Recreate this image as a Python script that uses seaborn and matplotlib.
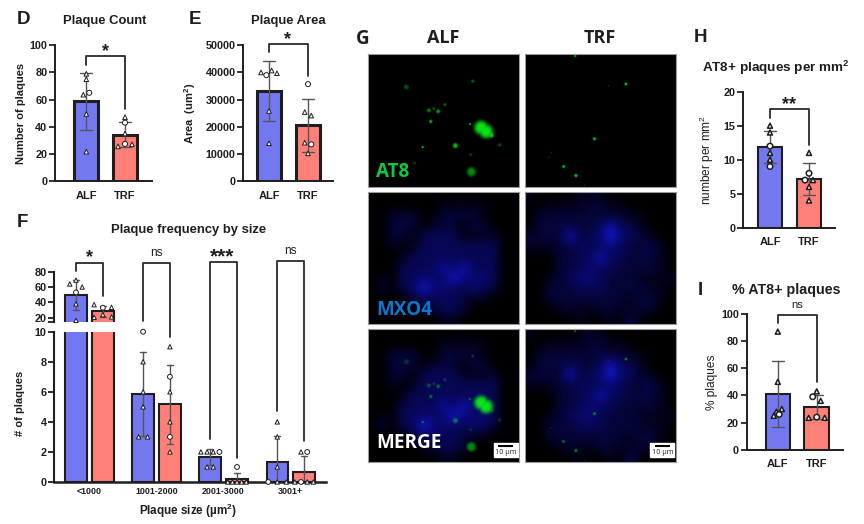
import numpy as np
import pandas as pd
import matplotlib
matplotlib.use("Agg")
import matplotlib.pyplot as plt
import seaborn as sns
from matplotlib.colors import LinearSegmentedColormap
from matplotlib.transforms import Affine2D, blended_transform_factory

W, H = 864, 524

# panel values, listed left to right where points sit side by side
diets = ["ALF", "TRF"]
d_alf = [79, 75, 63.6, 65, 49.4, 21.6]
d_alf_shape = "tttctt"
d_trf = [47, 43, 35, 25.5, 27.3, 27]
d_trf_shape = "tcttct"
e_alf = [40000, 39000, 40700, 39700, 25800, 13900]
e_alf_shape = "tctttt"
e_trf = [35700, 25400, 24100, 14100, 13500, 10200]
e_trf_shape = "ctttct"
h_alf = [15, 14, 12, 11, 10, 9]
h_alf_shape = "ttcttc"
h_trf = [11, 8, 7, 7, 6, 4]
h_trf_shape = "tcctt" + "t"
i_alf = [87, 50, 25, 28, 26, 30]
i_alf_shape = "ttttct"
i_trf = [43, 39, 36, 23.5, 24, 23.5]
i_trf_shape = "tcttct"

size_bins = ["<1000", "1001-2000", "2001-3000", "3001+"]
f_alf = [[64, 69, 60, 53, 38, 16.5], [10, 8, 6, 5, 3, 3], [2, 2, 2, 2, 1, 1], [4, 3, 1, 0, 0, 0]]
f_alf_shape = ["tttctt", "cttttt", "tttctt", "tttctt"]
f_trf = [[37, 33, 33.5, 20.5, 24, 21], [9, 7, 6, 4, 3, 2], [1, 0, 0, 0, 0, 0], [2, 2, 0, 0, 0, 0]]
f_trf_shape = ["tctttt", "tcttct", "cttttt", "tctctt"]

blue_alf = np.array([
    [0, 0, 0, 0, 0, 0, 0, 0, 0, 0, 0, 0, 0, 0, 0],
    [0, 0, 0, 0, 0, 0, 0, 1, 1, 1, 1, 1, 0, 0, 0],
    [0, 0, 2, 2, 2, 0, 0, 2, 2, 2, 2, 0, 0, 0, 0],
    [0, 0, 2, 2, 2, 0, 2, 2, 2, 0, 2, 2, 0, 0, 0],
    [0, 0, 2, 2, 0, 3, 3, 3, 3, 1, 1, 1, 2, 0, 0],
    [0, 0, 1, 0, 1, 3, 3, 3, 3, 3, 3, 3, 3, 0, 0],
    [0, 0, 0, 1, 3, 3, 3, 3, 3, 3, 3, 3, 3, 0, 0],
    [0, 0, 0, 3, 3, 3, 3, 6, 3, 7, 3, 3, 3, 0, 0],
    [0, 1, 0, 3, 3, 4, 4, 3, 8, 4, 4, 4, 3, 0, 0],
    [0, 2, 0, 3, 3, 8, 4, 4, 3, 3, 4, 3, 2, 0, 0],
    [0, 0, 0, 0, 2, 3, 3, 3, 3, 2, 1, 1, 0, 0, 0],
    [0, 0, 0, 0, 0, 1, 2, 3, 3, 2, 0, 0, 0, 0, 0],
    [0, 0, 0, 0, 0, 0, 0, 1, 1, 0, 0, 0, 0, 0, 0],
])
blue_trf = np.array([
    [1, 0, 0, 0, 0, 1, 1, 1, 0, 0, 0, 0, 0, 0, 0],
    [0, 0, 1, 1, 1, 1, 2, 2, 1, 1, 0, 0, 0, 0, 0],
    [0, 2, 2, 2, 2, 2, 2, 2, 2, 2, 1, 1, 0, 0, 0],
    [0, 2, 2, 2, 3, 2, 2, 3, 7, 3, 3, 1, 0, 0, 0],
    [2, 2, 2, 2, 7, 2, 3, 4, 8, 4, 3, 2, 1, 0, 0],
    [1, 1, 1, 2, 2, 3, 3, 3, 4, 3, 2, 2, 3, 1, 0],
    [0, 0, 0, 2, 2, 3, 3, 7, 3, 3, 2, 2, 2, 1, 0],
    [0, 0, 0, 2, 2, 3, 4, 3, 3, 2, 2, 2, 2, 1, 0],
    [0, 0, 1, 2, 3, 4, 4, 3, 2, 2, 2, 1, 1, 1, 1],
    [0, 0, 2, 2, 2, 3, 3, 3, 2, 2, 2, 2, 1, 1, 0],
    [0, 0, 2, 2, 2, 2, 2, 2, 2, 2, 1, 2, 2, 1, 0],
    [0, 0, 0, 1, 2, 1, 1, 2, 2, 1, 1, 2, 2, 0, 0],
    [0, 0, 0, 0, 0, 1, 0, 0, 1, 0, 3, 0, 0, 0, 0],
])

# green spots: x %, y %, radius in px, brightness
spots_alf = [
    (25.3, 24.5, 2.5, .35), (69.2, 20.2, 1.6, .45), (50.7, 37.9, 1.6, .45), (40.1, 42.2, 2, .6),
    (43.4, 40.9, 1.3, .5), (46.3, 42.9, 2, .7), (41.4, 50.5, 1.7, .8), (67.4, 52.5, 1.1, .9),
    (36.1, 69.7, 1.1, 1), (57.7, 68.7, 2.6, .8), (87, 68.2, 1.8, .35), (67.8, 75.5, 1.5, .3),
    (30.8, 81.8, 1.3, .35), (68.3, 88.4, 4.6, .6), (74.8, 55.2, 7, 1), (78, 58, 7, 1),
    (81.3, 60.6, 3, .9),
]
spots_trf = [
    (33.1, 1.3, 1.1, .9), (66.7, 22.4, 1.4, 1), (55.2, 23.9, .8, .3), (45.9, 63.5, 1.6, .9),
    (25.4, 84.4, 1.5, .9), (33.6, 91.2, 1.7, .9), (17.2, 74.1, .8, .35), (15.5, 77.3, .8, .3),
    (39.3, 98.7, .8, .3),
]

col_alf = "#7478F0"
col_trf = "#FF8078"
ink = "#1e1e1e"

sns.set_theme(style="ticks", rc={
    "axes.edgecolor": ink, "xtick.color": ink, "ytick.color": ink, "text.color": ink,
    "axes.labelcolor": ink, "mathtext.fontset": "custom", "mathtext.rm": "Liberation Sans",
    "mathtext.bf": "Liberation Sans:bold", "mathtext.default": "regular",
})
plt.rcParams["font.family"] = ["Liberation Sans", "DejaVu Sans"]

fig = plt.figure(figsize=(W / 100, H / 100), dpi=100)
to_px = Affine2D().scale(1 / W, -1 / H).translate(0, 1) + fig.transFigure


def add_axes(left, right, top, bottom):
    return fig.add_axes([left / W, 1 - bottom / H, (right - left) / W, (bottom - top) / H])


def label(x, y, s, size=8, weight="bold", **kw):
    fig.text(x, y, s, transform=to_px, fontsize=size, fontweight=weight, ha="center", va="center", **kw)


def bracket(ax, x0, x1, top, end0, end1, lw=1.3):
    # x in data units, y in figure pixels
    tr = blended_transform_factory(ax.transData, to_px)
    ax.plot([x0, x0, x1, x1], [end0, top, top, end1], transform=tr, color="#2a2a2a", lw=lw, clip_on=False, zorder=6)


def swarm(values, px_per_unit, step, gap=3.0):
    # points closer than gap pixels sit side by side, like a prism scatter
    vals = np.asarray(values, dtype=float)
    order = np.argsort(vals, kind="stable")
    offsets = np.zeros(len(vals))
    groups = [[order[0]]]
    for k in order[1:]:
        if (vals[k] - vals[groups[-1][-1]]) * px_per_unit < gap:
            groups[-1].append(k)
        else:
            groups.append([k])
    for g in groups:
        for i, k in enumerate(sorted(g)):
            offsets[k] = (i - (len(g) - 1) / 2) * step
    return offsets


def points(ax, x, values, shapes, offsets, s=11, lw=.7):
    df = pd.DataFrame({"x": x + offsets, "y": values, "shape": list(shapes)})
    sns.scatterplot(data=df, x="x", y="y", style="shape", markers={"t": "^", "c": "o"}, size="shape",
                    sizes={"t": s, "c": s * 1.2}, color="white", edgecolor=ink, linewidth=lw, legend=False,
                    clip_on=False, zorder=5, ax=ax)
    ax.set_xlabel("")
    ax.set_ylabel("")


def two_bars(box, centers, alf, alf_s, trf, trf_s, ymax, yticks, ylabel, label_x, lw, steps, gaps=(3, 3),
             ylabel_weight="bold", ylabel_size=8, mlw=.7, ms=11, spine=1.4):
    left, right, top, bottom = box
    ax = add_axes(left, right, top, bottom)
    spacing = centers[1] - centers[0]
    df = pd.DataFrame({"diet": ["ALF"] * len(alf) + ["TRF"] * len(trf), "value": alf + trf})
    sns.barplot(data=df, x="diet", y="value", hue="diet", palette=[col_alf, col_trf], order=diets, width=.63,
                saturation=1, edgecolor=ink, linewidth=lw, errorbar="sd", capsize=.31,
                err_kws={"color": "#555555", "linewidth": 1.0}, legend=False, ax=ax)
    unit = (bottom - top) / ymax
    points(ax, 0, alf, alf_s, swarm(alf, unit, steps[0] / spacing, gaps[0]), lw=mlw, s=ms)
    points(ax, 1, trf, trf_s, swarm(trf, unit, steps[1] / spacing, gaps[1]), lw=mlw, s=ms)
    ax.set_xlim((left - centers[0]) / spacing, (right - centers[0]) / spacing)
    ax.set_ylim(0, ymax)
    ax.set_yticks(yticks)
    ax.set_xlabel("")
    ax.set_ylabel(ylabel, fontsize=ylabel_size, fontweight=ylabel_weight)
    ax.yaxis.set_label_coords((label_x - left) / (right - left), .5)
    ax.tick_params(axis="x", length=0, pad=7, labelsize=8)
    ax.tick_params(axis="y", length=4, width=spine * .9, pad=1.5, labelsize=7.8)
    for t in ax.get_xticklabels() + ax.get_yticklabels():
        t.set_fontweight("bold")
    sns.despine(ax=ax)
    ax.spines["left"].set_linewidth(spine)
    ax.spines["bottom"].set_linewidth(spine)
    return ax


# D, E
ax_d = two_bars((55, 152, 45.3, 181), (86.3, 125), d_alf, d_alf_shape, d_trf, d_trf_shape, 100,
                [0, 20, 40, 60, 80, 100], "Number of plaques", 25.7, 2.2, (6, 7))
bracket(ax_d, 0, 1, 56, 65, 109)
label(105, 52, "*", size=13)
label(105, 20.7, "Plaque Count", size=9.4)
label(24, 20, "D", size=13.5)

ax_e = two_bars((243.3, 333, 45.3, 181), (269, 308), e_alf, e_alf_shape, e_trf, e_trf_shape, 50000,
                [0, 10000, 20000, 30000, 40000, 50000], "Area  (um$^{2}$)", 197.5, 2.2, (5.3, 6.5), gaps=(3, 4))
bracket(ax_e, 0, 1, 44.3, 52.3, 76)
label(288, 39.5, "*", size=13)
label(288, 20.7, "Plaque Area", size=9.4)
label(195, 20, "E", size=13.5)

# F, broken y axis
f_rows = []
for i, b in enumerate(size_bins):
    f_rows += [(b, "ALF", v) for v in f_alf[i]] + [(b, "TRF", v) for v in f_trf[i]]
f_df = pd.DataFrame(f_rows, columns=["size", "diet", "value"])
f_left, f_right = 54.3, 326
f_c0, f_sp = 89.4, 67.1
f_xlim = ((f_left - f_c0) / f_sp, (f_right - f_c0) / f_sp)
ax_ft = add_axes(f_left, f_right, 271.7, 321.7)
ax_fb = add_axes(f_left, f_right, 331.7, 482)
f_lims = [(14.8, 80), (0, 10)]
for ax in [ax_ft, ax_fb]:
    sns.barplot(data=f_df, x="size", y="value", hue="diet", order=size_bins, hue_order=diets,
                palette=[col_alf, col_trf], saturation=1, width=.8, gap=.2, edgecolor=ink, linewidth=1.5,
                errorbar="sd", capsize=.18, err_kws={"color": "#555555", "linewidth": 1.0}, legend=False, ax=ax)
alf_steps = [6.2, 9, 6.2, 9]
trf_steps = [8.7, 6.2, 4.6, 6.2]
for i in range(4):
    ax = ax_ft if i == 0 else ax_fb
    lim = f_lims[0] if i == 0 else f_lims[1]
    unit = (50 if i == 0 else 150.3) / (lim[1] - lim[0])
    gap = 4.2 if i == 0 else 3
    points(ax, i - .2, f_alf[i], f_alf_shape[i], swarm(f_alf[i], unit, alf_steps[i] / f_sp, gap), s=10)
    points(ax, i + .2, f_trf[i], f_trf_shape[i], swarm(f_trf[i], unit, trf_steps[i] / f_sp, gap), s=10)
for ax, lim in zip([ax_ft, ax_fb], f_lims):
    ax.set_xlim(f_xlim)
    ax.set_ylim(lim)
    sns.despine(ax=ax)
    ax.spines["left"].set_linewidth(1.5)
    ax.patch.set_alpha(0)
ax_ft.set_yticks([20, 40, 60, 80])
ax_ft.set_yticks([14.8], minor=True)
ax_fb.set_yticks([0, 2, 4, 6, 8, 10])
ax_ft.spines["bottom"].set_visible(False)
ax_ft.tick_params(axis="x", length=0, labelbottom=False)
ax_ft.tick_params(axis="y", which="both", length=4, width=1.3, pad=1.5, labelsize=7.8)
ax_fb.tick_params(axis="y", length=4, width=1.3, pad=1.5, labelsize=7.8)
ax_fb.tick_params(axis="x", length=0, pad=3.5, labelsize=6.4)
ax_ft.set_ylabel("")
ax_fb.set_ylabel("# of plaques", fontsize=8, fontweight="bold")
ax_fb.yaxis.set_label_coords((25 - f_left) / (f_right - f_left), .52)
ax_fb.set_xlabel("")
for ax in [ax_ft, ax_fb]:
    for t in ax.get_xticklabels() + ax.get_yticklabels():
        t.set_fontweight("bold")
ax_fb.spines["bottom"].set_linewidth(1.8)
bracket(ax_fb, -.2, .2, 263.3, 271, 295.7)
bracket(ax_fb, .8, 1.2, 263.3, 320.7, 337.3)
bracket(ax_fb, 1.8, 2.2, 262, 439, 458)
bracket(ax_fb, 2.8, 3.2, 261, 410.7, 440.7)
label(89, 258, "*", size=13)
label(156.7, 253, "ns", size=8.5, weight="normal")
label(222, 257, "***", size=15)
label(290.7, 250.5, "ns", size=8.5, weight="normal")
label(189, 230, "Plaque frequency by size", size=9.4)
label(188, 511, "Plaque size (µm$^{2}$)", size=8.4)
label(22.7, 222.7, "F", size=13.5)

# H, I
ax_h = two_bars((743.3, 835, 91.7, 227.7), (770, 809), h_alf, h_alf_shape, h_trf, h_trf_shape, 20,
                [0, 5, 10, 15, 20], "number per mm$^{2}$", 716, 1.5, (6, 8), ylabel_weight="normal",
                ylabel_size=8.6, mlw=1.1, ms=13)
bracket(ax_h, 0, 1, 109.3, 117.7, 145)
label(789, 105, "**", size=13)
label(776, 68, "AT8+ plaques per mm$^{2}$", size=9.7)
label(700.7, 38, "H", size=13.5)

ax_i = two_bars((746.7, 843, 314, 449.7), (777.8, 816.7), i_alf, i_alf_shape, i_trf, i_trf_shape, 100,
                [0, 20, 40, 60, 80, 100], "% plaques", 718.5, 1.5, (2.7, 8), gaps=(3, 4.5), ylabel_weight="normal",
                ylabel_size=8.6, mlw=1.1, ms=13)
bracket(ax_i, 0, 1, 314.7, 322.7, 381.7)
label(797, 305, "ns", size=8, weight="normal")
label(786.7, 290, "% AT8+ plaques", size=10.3)
label(700, 290.7, "I", size=13.5)

# G, micrographs
blue_map = LinearSegmentedColormap.from_list("mxo4", ["#000000", "#0a0a80", "#1420f0"])
green_rgb = np.array([.04, .9, .1])


def green_layer(spots, fade=1.0, nx=302, ny=264):
    yy, xx = np.mgrid[0:ny, 0:nx]
    xx = xx / 2.0
    yy = yy / 2.0
    out = np.zeros((ny, nx))
    for x, y, r, level in spots:
        d = np.hypot(xx - x * 1.51, yy - y * 1.32) / r
        keep = fade if r < 4 else 1.0
        out = np.maximum(out, keep * level * np.exp(-d ** 4))
    rgba = np.zeros((ny, nx, 4))
    rgba[..., :3] = green_rgb
    rgba[..., 3] = out
    return rgba


cols = [(368.3, 519.3), (525, 676)]
rows = [(54.3, 186.7), (191.7, 324), (329.3, 462)]
blues = [blue_alf, blue_trf]
spots = [spots_alf, spots_trf]
for c, (l, r) in enumerate(cols):
    for k, (t, b) in enumerate(rows):
        ax = add_axes(l, r, t, b)
        ax.set_facecolor("black")
        if k > 0:
            ax.imshow(blues[c], cmap=blue_map, vmin=0, vmax=9, aspect="auto", interpolation="bicubic",
                      extent=(0, 100, 100, 0))
        if k != 1:
            ax.imshow(green_layer(spots[c], fade=.6 if k == 2 else 1.0), aspect="auto", interpolation="bilinear",
                      extent=(0, 100, 100, 0))
        ax.set_xlim(0, 100)
        ax.set_ylim(100, 0)
        ax.set_xticks([])
        ax.set_yticks([])
        for sp in ax.spines.values():
            sp.set_color("#9a9a9a")
            sp.set_linewidth(.8)
        if k == 2:
            # scale bar box
            ax.fill([83, 99, 99, 83], [85.5, 85.5, 96, 96], color="white", zorder=5)
            ax.plot([86, 96], [88, 88], color="black", lw=1.5, zorder=6, solid_capstyle="butt")
            ax.text(91, 92.7, "10 µm", fontsize=5.2, color="#222222", ha="center", va="center", zorder=6,
                    family="Open Sans")

label(443.5, 38, "ALF", size=13, family="Open Sans")
label(599.5, 38, "TRF", size=13, family="Open Sans")
label(363, 39, "G", size=13.5, family="Open Sans")
fig.text(376.5, 172, "AT8", transform=to_px, fontsize=13.6, fontweight="bold", color="#10c838", ha="left",
         va="center", family="Open Sans")
fig.text(376.5, 310, "MXO4", transform=to_px, fontsize=13.6, fontweight="bold", color="#0a78d2", ha="left",
         va="center", family="Open Sans")
fig.text(376.5, 443, "MERGE", transform=to_px, fontsize=13.6, fontweight="bold", color="white", ha="left",
         va="center", family="Open Sans")

fig.savefig("out.png", dpi=100)
